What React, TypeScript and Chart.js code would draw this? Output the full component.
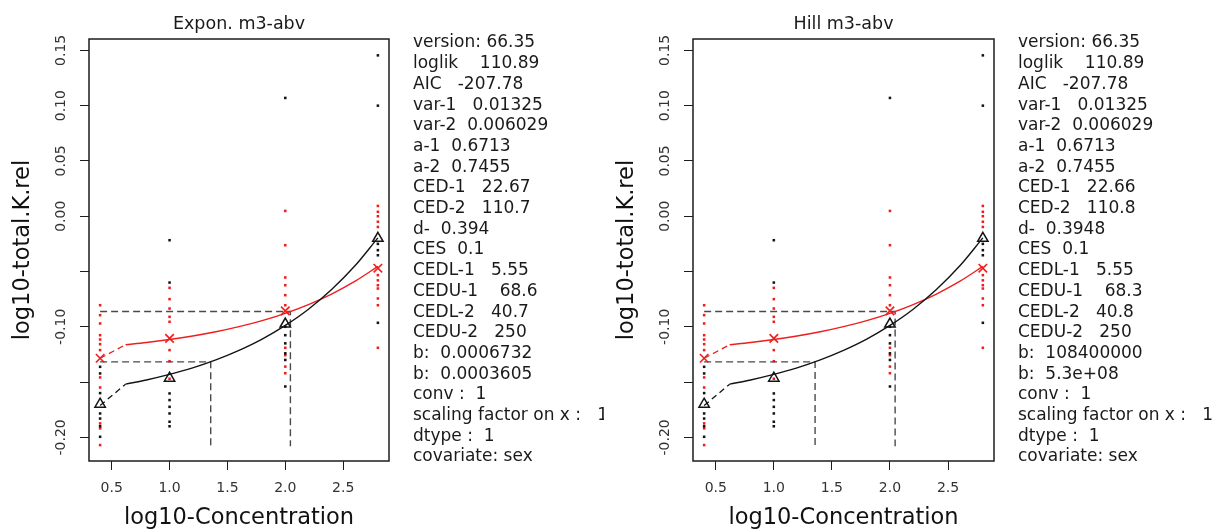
import React, { useEffect, useRef } from 'react';
import { Chart, registerables } from 'chart.js';

Chart.register(...registerables);

// ---------- data ----------
const xTicks = [0.5, 1.0, 1.5, 2.0, 2.5];
const yTicks = [-0.2, -0.15, -0.1, -0.05, 0.0, 0.05, 0.1, 0.15];
const yTickLabels = ['-0.20', '', '-0.10', '', '0.00', '0.05', '0.10', '0.15'];

const doseLevels = [0.4, 1.0, 2.0, 2.8];

// group 1 (black) observations per log10-dose
const black04 = [-0.1362, -0.1422, -0.16, -0.1784, -0.183, -0.19, -0.1995];
const black10 = [-0.0217, -0.06, -0.1603, -0.1663, -0.1724, -0.1784, -0.1859, -0.19];
const black20 = [0.107, -0.1, -0.1076, -0.115, -0.124, -0.13, -0.154];
const black28 = [0.1455, 0.1, -0.025, -0.0307, -0.0353, -0.0964];

// group 2 (red) observations per log10-dose
const red04 = [-0.0805, -0.0895, -0.097, -0.1076, -0.1115, -0.1157, -0.1211, -0.1458, -0.1549, -0.1874, -0.1919, -0.207];
const red10 = [-0.0648, -0.075, -0.0835, -0.091, -0.0955, -0.1211, -0.1311, -0.147];
const red20 = [0.0048, -0.0262, -0.0554, -0.0624, -0.0714, -0.0805, -0.119, -0.1257, -0.136, -0.142];
const red28 = [0.0093, 0.004, 0.0, -0.005, -0.0097, -0.0533, -0.058, -0.0624, -0.0654, -0.0744, -0.0805, -0.119];

// group means
const blackMeans = [-0.17, -0.1465, -0.0975, -0.02];
const redMeans = [-0.1285, -0.1105, -0.0856, -0.047];

// fitted curves
const curveX = [0.62, 0.8, 1.0, 1.2, 1.4, 1.6, 1.8, 2.0, 2.2, 2.4, 2.6, 2.8];
const blackCurve = [-0.1519, -0.1481, -0.1431, -0.1372, -0.13, -0.1214, -0.1112, -0.0988, -0.0841, -0.0663, -0.0451, -0.0196];
const redCurve = [-0.1162, -0.1142, -0.1115, -0.1083, -0.1045, -0.0999, -0.0944, -0.0878, -0.0799, -0.0704, -0.059, -0.0454];
const blackControlFit = -0.1712;
const redControlFit = -0.1285;

// CED lines
const cesLevels = [-0.1317, -0.0862];
const expCedLog = [1.3555, 2.0441];
const hillCedLog = [1.3553, 2.0445];
const cedLineStart = 0.4;
const cedLineBottom = -0.208;

const expStats = [
  'version: 66.35',
  'loglik    110.89',
  'AIC   -207.78',
  'var-1   0.01325',
  'var-2  0.006029',
  'a-1  0.6713',
  'a-2  0.7455',
  'CED-1   22.67',
  'CED-2   110.7',
  'd-  0.394',
  'CES  0.1',
  'CEDL-1   5.55',
  'CEDU-1    68.6',
  'CEDL-2   40.7',
  'CEDU-2   250',
  'b:  0.0006732',
  'b:  0.0003605',
  'conv :  1',
  'scaling factor on x :   1',
  'dtype :  1',
  'covariate: sex',
];

const hillStats = [
  'version: 66.35',
  'loglik    110.89',
  'AIC   -207.78',
  'var-1   0.01325',
  'var-2  0.006029',
  'a-1  0.6713',
  'a-2  0.7455',
  'CED-1   22.66',
  'CED-2   110.8',
  'd-  0.3948',
  'CES  0.1',
  'CEDL-1   5.55',
  'CEDU-1    68.3',
  'CEDL-2   40.8',
  'CEDU-2   250',
  'b:  108400000',
  'b:  5.3e+08',
  'conv :  1',
  'scaling factor on x :   1',
  'dtype :  1',
  'covariate: sex',
];

const FONT = '"DejaVu Sans", "Liberation Sans", sans-serif';
const RED = 'rgb(238,30,30)';
const BLACK = '#141414';
const DASH = '#4a4a4a';

function pts(x: number, ys: number[]) {
  return ys.map((y) => ({ x, y }));
}

function buildDatasets(cedLog: number[]) {
  const blackObs = [black04, black10, black20, black28].flatMap((ys, i) => pts(doseLevels[i], ys));
  const redObs = [red04, red10, red20, red28].flatMap((ys, i) => pts(doseLevels[i], ys));
  const dashStyle = { borderColor: DASH, borderWidth: 1.4, borderDash: [7, 4], pointRadius: 0, showLine: true, fill: false };
  return [
    {
      label: 'means 1',
      data: doseLevels.map((x, i) => ({ x, y: blackMeans[i] })),
      pointStyle: 'triangle',
      pointRadius: 6,
      borderColor: BLACK,
      backgroundColor: 'rgba(0,0,0,0)',
      borderWidth: 1.5,
      showLine: false,
    },
    {
      label: 'means 2',
      data: doseLevels.map((x, i) => ({ x, y: redMeans[i] })),
      pointStyle: 'crossRot',
      pointRadius: 6,
      borderColor: RED,
      backgroundColor: RED,
      borderWidth: 1.6,
      showLine: false,
    },
    {
      label: 'fit 1',
      data: curveX.map((x, i) => ({ x, y: blackCurve[i] })),
      borderColor: BLACK,
      borderWidth: 1.4,
      pointRadius: 0,
      showLine: true,
      cubicInterpolationMode: 'monotone',
    },
    {
      label: 'fit 2',
      data: curveX.map((x, i) => ({ x, y: redCurve[i] })),
      borderColor: RED,
      borderWidth: 1.4,
      pointRadius: 0,
      showLine: true,
      cubicInterpolationMode: 'monotone',
    },
    {
      label: 'control link 1',
      data: [{ x: doseLevels[0], y: blackControlFit }, { x: curveX[0], y: blackCurve[0] }],
      borderColor: BLACK,
      borderWidth: 1.3,
      borderDash: [6, 4],
      pointRadius: 0,
      showLine: true,
    },
    {
      label: 'control link 2',
      data: [{ x: doseLevels[0], y: redControlFit }, { x: curveX[0], y: redCurve[0] }],
      borderColor: RED,
      borderWidth: 1.3,
      borderDash: [6, 4],
      pointRadius: 0,
      showLine: true,
    },
    ...cedLog.map((c, i) => ({
      label: 'CED ' + (i + 1),
      data: [
        { x: cedLineStart, y: cesLevels[i] },
        { x: c, y: cesLevels[i] },
        { x: c, y: cedLineBottom },
      ],
      ...dashStyle,
    })),
    {
      label: 'obs 1',
      data: blackObs,
      pointStyle: 'rect',
      pointRadius: 1.8,
      borderWidth: 0,
      backgroundColor: BLACK,
      showLine: false,
    },
    {
      label: 'obs 2',
      data: redObs,
      pointStyle: 'rect',
      pointRadius: 1.8,
      borderWidth: 0,
      backgroundColor: RED,
      showLine: false,
    },
  ];
}

type PanelProps = {
  title: string;
  stats: string[];
  cedLog: number[];
  left: number;
  width: number;
  plotRight: number;
  textX: number;
};

function Panel({ title, stats, cedLog, left, width, plotRight, textX }: PanelProps) {
  const ref = useRef<HTMLCanvasElement | null>(null);

  useEffect(() => {
    if (!ref.current) return;
    const overlay = {
      id: 'overlay',
      afterDraw(chart: any) {
        const { ctx, chartArea } = chart;
        const yScale = chart.scales.y;
        ctx.save();
        // box
        ctx.strokeStyle = '#1c1c1c';
        ctx.lineWidth = 1.5;
        ctx.strokeRect(chartArea.left, chartArea.top, chartArea.right - chartArea.left, chartArea.bottom - chartArea.top);
        // title
        ctx.fillStyle = '#1a1a1a';
        ctx.font = '17.5px ' + FONT;
        ctx.textAlign = 'center';
        ctx.textBaseline = 'middle';
        ctx.fillText(title, (chartArea.left + chartArea.right) / 2, 24);
        // y tick labels (rotated, as in R)
        ctx.fillStyle = '#333';
        ctx.font = '14px ' + FONT;
        yTicks.forEach((v, i) => {
          const lab = yTickLabels[i];
          if (!lab) return;
          const py = yScale.getPixelForValue(v);
          ctx.save();
          ctx.translate(chartArea.left - 28, py);
          ctx.rotate(-Math.PI / 2);
          ctx.textAlign = 'center';
          ctx.textBaseline = 'middle';
          ctx.fillText(lab, 0, 0);
          ctx.restore();
        });
        // statistics text
        ctx.fillStyle = '#1a1a1a';
        ctx.font = '17px ' + FONT;
        ctx.textAlign = 'left';
        ctx.textBaseline = 'middle';
        stats.forEach((s, i) => {
          ctx.fillText(s, textX, 43 + i * 20.7);
        });
        ctx.restore();
      },
    };

    const chart = new Chart(ref.current, {
      type: 'scatter',
      data: { datasets: buildDatasets(cedLog) as any },
      options: {
        animation: false,
        responsive: false,
        devicePixelRatio: 1,
        layout: { padding: { top: 39, right: width - plotRight, left: 0, bottom: 0 } },
        plugins: { legend: { display: false }, tooltip: { enabled: false }, title: { display: false } },
        scales: {
          x: {
            type: 'linear',
            position: 'bottom',
            min: 0.304,
            max: 2.896,
            afterBuildTicks: (s: any) => {
              s.ticks = xTicks.map((v) => ({ value: v }));
            },
            afterFit: (s: any) => {
              s.height = 69;
            },
            ticks: {
              autoSkip: false,
              maxRotation: 0,
              padding: 10,
              color: '#333',
              font: { family: FONT, size: 14, lineHeight: 1.2 },
              callback: (v: any) => Number(v).toFixed(1),
            },
            grid: { drawOnChartArea: false, drawTicks: true, tickLength: 9, color: '#1c1c1c', lineWidth: 1 },
            border: { display: false },
            title: {
              display: true,
              text: 'log10-Concentration',
              color: '#111',
              font: { family: FONT, size: 22.5, lineHeight: 1 },
              padding: { top: 0, bottom: 1 },
            },
          },
          y: {
            type: 'linear',
            position: 'left',
            min: -0.2214,
            max: 0.1603,
            afterBuildTicks: (s: any) => {
              s.ticks = yTicks.map((v) => ({ value: v }));
            },
            afterFit: (s: any) => {
              s.width = 89;
            },
            ticks: { display: false },
            grid: { drawOnChartArea: false, drawTicks: true, tickLength: 9, color: '#1c1c1c', lineWidth: 1 },
            border: { display: false },
            title: {
              display: true,
              text: 'log10-total.K.rel',
              color: '#111',
              font: { family: FONT, size: 22.5, lineHeight: 1 },
              padding: { top: 12, bottom: 0 },
            },
          },
        },
      },
      plugins: [overlay],
    } as any);
    return () => chart.destroy();
  }, [title, stats, cedLog, width, plotRight, textX]);

  return (
    <canvas
      ref={ref}
      width={width}
      height={530}
      style={{ position: 'absolute', left, top: 0, width, height: 530, display: 'block' }}
    />
  );
}

export default function App() {
  return (
    <div style={{ position: 'absolute', left: 0, top: 0, width: 1213, height: 530, background: '#fff', overflow: 'hidden' }}>
      <Panel title="Expon. m3-abv" stats={expStats} cedLog={expCedLog} left={0} width={604} plotRight={389} textX={413} />
      <Panel title="Hill m3-abv" stats={hillStats} cedLog={hillCedLog} left={604} width={609} plotRight={390} textX={414} />
    </div>
  );
}
